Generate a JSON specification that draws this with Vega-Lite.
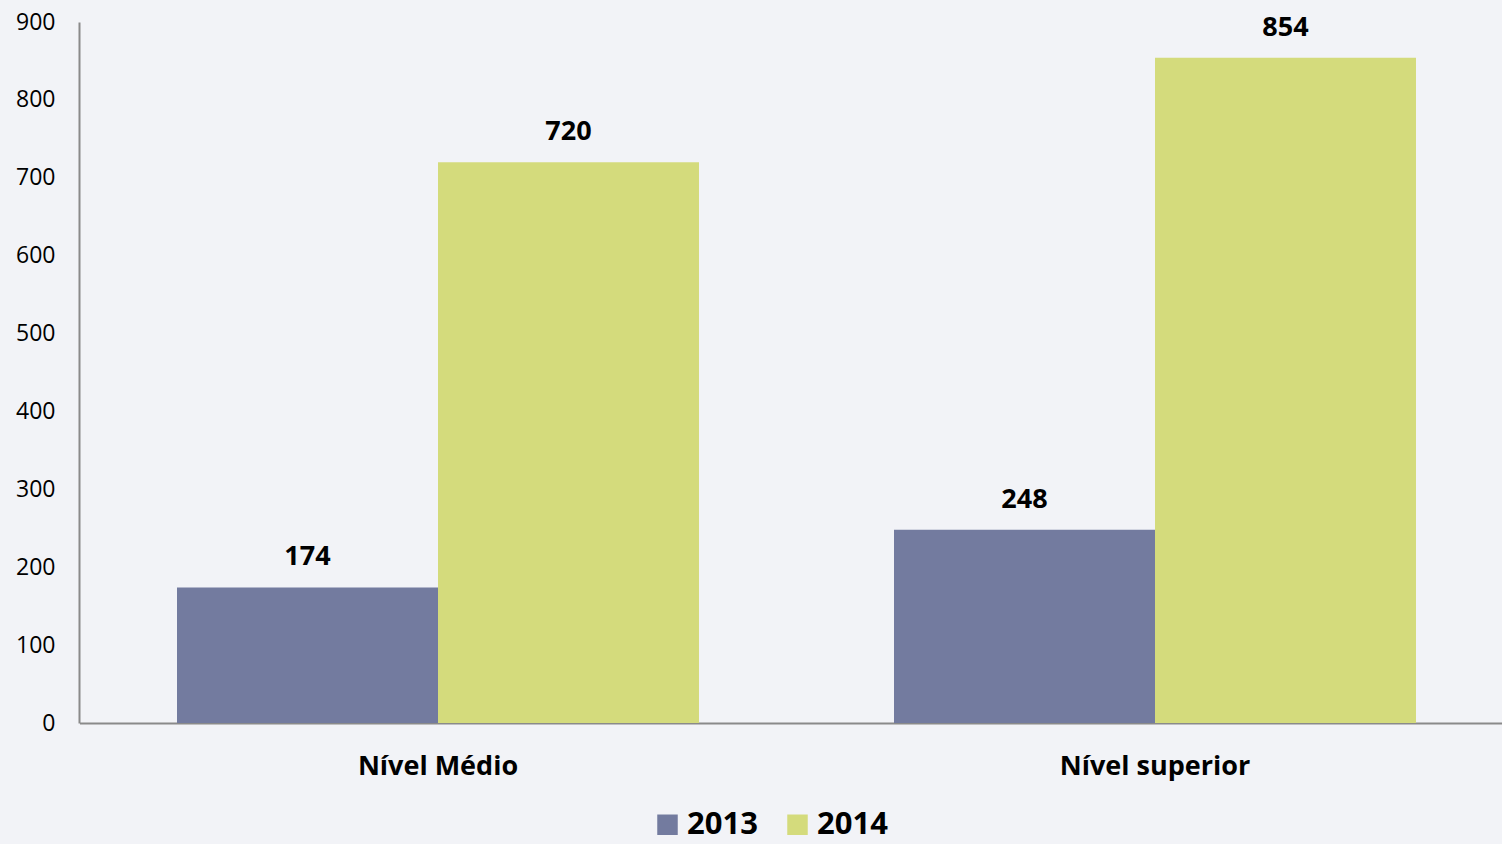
{
  "$schema": "https://vega.github.io/schema/vega-lite/v6.json",
  "width": 1423,
  "height": 701,
  "autosize": {"type": "none"},
  "padding": {"left": 79, "top": 22, "right": 0, "bottom": 121},
  "background": "#f2f3f7",
  "config": {
    "view": {"stroke": null},
    "font": "Open Sans"
  },
  "data": {
    "values": [
      {"nivel": "Nível Médio", "ano": "2013", "valor": 174},
      {"nivel": "Nível Médio", "ano": "2014", "valor": 720},
      {"nivel": "Nível superior", "ano": "2013", "valor": 248},
      {"nivel": "Nível superior", "ano": "2014", "valor": 854}
    ]
  },
  "encoding": {
    "x": {
      "field": "nivel", "type": "nominal", "sort": null,
      "scale": {"paddingInner": 0, "paddingOuter": 0, "range": [0.5, 1434.5]},
      "axis": {
        "title": null, "labelAngle": 0, "ticks": false, "domainColor": "#8a8a8a", "domainWidth": 2,
        "labelFont": "Open Sans", "labelFontSize": 27, "labelFontWeight": "bold", "labelColor": "#000000",
        "labelPadding": 30, "labelLimit": 0
      }
    },
    "xOffset": {
      "field": "ano", "type": "nominal",
      "scale": {"paddingInner": 0, "paddingOuter": 0.3736}
    },
    "y": {
      "field": "valor", "type": "quantitative",
      "scale": {"domain": [0, 900], "nice": false},
      "axis": {
        "title": null, "values": [0, 100, 200, 300, 400, 500, 600, 700, 800, 900],
        "grid": false, "ticks": false, "domainColor": "#8a8a8a", "domainWidth": 2,
        "labelFont": "Open Sans", "labelFontSize": 23, "labelColor": "#000000", "labelPadding": 24
      }
    }
  },
  "layer": [
    {
      "mark": {"type": "bar"},
      "encoding": {
        "color": {
          "field": "ano", "type": "nominal",
          "scale": {"domain": ["2013", "2014"], "range": ["#737b9f", "#d4db7c"]},
          "legend": {
            "title": null, "orient": "none", "direction": "horizontal",
            "legendX": 573, "legendY": 787,
            "symbolType": "square", "symbolSize": 420, "symbolStrokeWidth": 0,
            "labelFont": "Open Sans", "labelFontSize": 31, "labelFontWeight": "bold", "labelColor": "#000000",
            "labelOffset": 4, "columnPadding": 24, "labelLimit": 0
          }
        }
      }
    },
    {
      "mark": {"type": "text", "baseline": "bottom", "dy": -16, "fontSize": 27, "fontWeight": "bold", "font": "Open Sans", "color": "#000000"},
      "encoding": {
        "text": {"field": "valor", "type": "quantitative"}
      }
    }
  ]
}
